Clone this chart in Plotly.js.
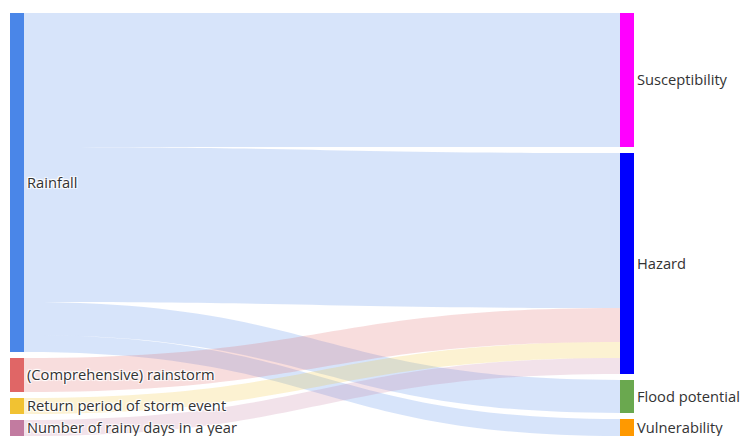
<!DOCTYPE html>
<html><head><meta charset="utf-8">
<script src="https://cdn.plot.ly/plotly-3.0.1.min.js"></script>
<style>html,body{margin:0;padding:0;overflow:hidden;background:#fff}#chart{width:1244px;height:436px}</style>
</head><body><div id="chart"></div>
<script>
// ---- data ----
const sourceNodes = ["Rainfall", "(Comprehensive) rainstorm", "Return period of storm event", "Number of rainy days in a year"];
const targetNodes = ["Susceptibility", "Hazard", "Flood potential", "Vulnerability"];
const linkSource = ["Rainfall", "Rainfall", "Rainfall", "Rainfall", "(Comprehensive) rainstorm", "Return period of storm event", "Number of rainy days in a year"];
const linkTarget = ["Susceptibility", "Hazard", "Flood potential", "Vulnerability", "Hazard", "Hazard", "Hazard"];
const linkValue = [134, 155, 33, 17, 34, 16, 16];

// ---- styles ----
const nodeColor = {
  "Rainfall": "#4a86e8",
  "(Comprehensive) rainstorm": "#e06666",
  "Return period of storm event": "#f1c232",
  "Number of rainy days in a year": "#c27ba0",
  "Susceptibility": "#ff00ff",
  "Hazard": "#0000ff",
  "Flood potential": "#6aa84f",
  "Vulnerability": "#ff9900"
};
function alpha(hex, a) {
  const n = parseInt(hex.slice(1), 16);
  return `rgba(${(n >> 16) & 255},${(n >> 8) & 255},${n & 255},${a})`;
}

// build node list; an invisible spacer column keeps the right-hand labels on the right side
const labels = [], colors = [];
sourceNodes.concat(targetNodes).forEach(n => { labels.push(n); colors.push(nodeColor[n]); });
const idx = n => labels.indexOf(n);
const src = [], tgt = [], val = [], lcol = [];
linkSource.forEach((s, i) => {
  src.push(idx(s)); tgt.push(idx(linkTarget[i])); val.push(linkValue[i]);
  lcol.push(alpha(nodeColor[s], 0.22));
});
targetNodes.forEach(t => {
  const total = linkValue.reduce((acc, v, i) => acc + (linkTarget[i] === t ? v : 0), 0);
  labels.push(""); colors.push("rgba(0,0,0,0)");
  src.push(idx(t)); tgt.push(labels.length - 1); val.push(total); lcol.push("rgba(0,0,0,0)");
});

const trace = {
  type: "sankey",
  orientation: "h",
  arrangement: "snap",
  hoverinfo: "none",
  node: {
    label: labels, color: colors, pad: 6, thickness: 14,
    line: {width: 0}, hoverinfo: "none"
  },
  link: {source: src, target: tgt, value: val, color: lcol, hoverinfo: "none"},
  textfont: {family: "Open Sans, sans-serif", size: 14.7, color: "#333"}
};
const layout = {
  width: 1244, height: 436,
  margin: {l: 10, r: 0, t: 13, b: 0},
  paper_bgcolor: "#fff",
  font: {family: "Open Sans, sans-serif", size: 14.7, color: "#333"}
};
Plotly.newPlot("chart", [trace], layout, {staticPlot: true, displayModeBar: false});
</script>
</body></html>
